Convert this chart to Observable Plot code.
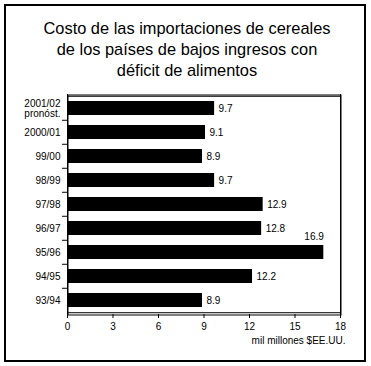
<!DOCTYPE html>
<html>
<head>
<meta charset="utf-8">
<script src="https://cdn.jsdelivr.net/npm/d3@7"></script>
<script src="https://cdn.jsdelivr.net/npm/@observablehq/plot@0.6"></script>
<style>
  html, body { margin: 0; padding: 0; background: #fff; font-family: "Liberation Sans", Arial, sans-serif; }
  #wrap { margin: 4px 0 0 4px; width: 362px; height: 358px; box-sizing: border-box; border: 2px solid #000; }
  #title { height: 74px; box-sizing: border-box; padding-top: 12px; padding-left: 4px; text-align: center; font-size: 16.4px; line-height: 21px; color: #000; }
  #chart { margin: 0; padding: 0; }
</style>
</head>
<body>
<div id="wrap">
  <div id="title">Costo de las importaciones de cereales<br>de los países de bajos ingresos con<br>déficit de alimentos</div>
  <div id="chart"></div>
</div>
<script>
const categories = ["2001/02\npronóst.", "2000/01", "99/00", "98/99", "97/98", "96/97", "95/96", "94/95", "93/94"];
const values = [9.7, 9.1, 8.9, 9.7, 12.9, 12.8, 16.9, 12.2, 8.9];
const xTicks = [0, 3, 6, 9, 12, 15, 18];
const xLabel = "mil millones $EE.UU.";

const data = categories.map((c, i) => ({cat: c, value: values[i]}));
const maxVal = d3.max(values);
const xMin = xTicks[0], xMax = xTicks[xTicks.length - 1];

const W = 358, H = 278, mTop = 14, mBottom = 44, mLeft = 61, mRight = 24;
const step = (H - mTop - mBottom) / categories.length;

const chart = Plot.plot({
  width: W,
  height: H,
  marginTop: mTop,
  marginBottom: mBottom,
  marginLeft: mLeft,
  marginRight: mRight,
  style: {fontFamily: '"Liberation Sans", Arial, sans-serif', fontSize: "10px", color: "#000", background: "transparent", maxWidth: "none"},
  x: {domain: [xMin, xMax]},
  y: {domain: categories, paddingInner: 0.4, paddingOuter: 0.2},
  marks: [
    Plot.frame({fill: "#000", insetRight: -1, insetBottom: -1}),
    Plot.frame({fill: "#fff", insetLeft: 1, insetTop: 1}),
    Plot.barX(data, {x: "value", y: "cat", fill: "#000"}),
    Plot.axisX(xTicks, {tickSize: 4, tickPadding: 4, label: null, stroke: "#000", fill: "#000"}),
    Plot.axisY({tickSize: 0, tickPadding: 7, label: null, fill: "#000", lineHeight: 1.0}),
    Plot.axisY(categories.slice(1), {tickSize: 5, text: null, label: null, dy: -step / 2, stroke: "#000"}),
    Plot.text(data.filter(d => d.value !== maxVal), {x: "value", y: "cat", text: d => d.value.toFixed(1), dx: 4, textAnchor: "start", fill: "#000"}),
    Plot.text(data.filter(d => d.value === maxVal), {x: "value", y: "cat", text: d => d.value.toFixed(1), dy: -16, textAnchor: "end", fill: "#000"}),
    Plot.text([xLabel], {frameAnchor: "bottom-right", dy: 29, dx: 5, textAnchor: "end", fill: "#000"}),
    Plot.ruleX([xMin, xMax], {stroke: "#000", strokeWidth: 1}),
    Plot.ruleY([categories[0]], {stroke: "#000", strokeWidth: 1, dy: -step / 2}),
    Plot.ruleY([categories[categories.length - 1]], {stroke: "#000", strokeWidth: 1, dy: step / 2})
  ]
});
document.getElementById("chart").appendChild(chart);
</script>
</body>
</html>
